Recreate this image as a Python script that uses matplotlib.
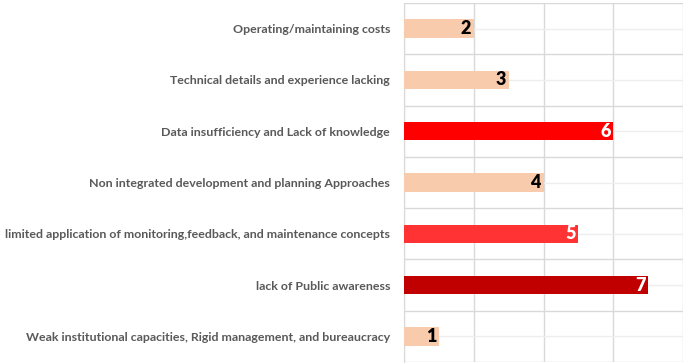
import matplotlib
matplotlib.use("Agg")
import matplotlib.pyplot as plt
import numpy as np

categories = [
    "Operating/maintaining costs",
    "Technical details and experience lacking",
    "Data insufficiency and Lack of knowledge",
    "Non integrated development and planning Approaches",
    "limited application of monitoring,feedback, and maintenance concepts",
    "lack of Public awareness",
    "Weak institutional capacities, Rigid management, and bureaucracy",
]
values = [2, 3, 6, 4, 5, 7, 1]
colors = ["#F8CBAD", "#F8CBAD", "#FF0000", "#F8CBAD", "#FF3333", "#C00000", "#F8CBAD"]
label_colors = ["black", "black", "white", "black", "white", "white", "black"]

fig = plt.figure(figsize=(6.85, 3.63), dpi=100)
ax = fig.add_axes([404/685, 1/363, 279/685, 359/363])

n = len(categories)
y = np.arange(n)
ax.barh(y, values, height=0.36, color=colors, zorder=3)
ax.set_ylim(n - 0.5, -0.5)
ax.set_xlim(0, 8)

ax.set_xticks([0, 2, 4, 6, 8])
ax.set_xticklabels([])
ax.tick_params(axis="x", length=0)
ax.set_yticks(np.arange(-0.5, n, 1))
ax.set_yticklabels([])
ax.set_yticks(y, minor=True)
ax.set_yticklabels(categories, minor=True, fontfamily="Lato", fontweight="bold",
                   fontsize=8.9, color="#595959")
ax.tick_params(axis="y", which="both", length=0, pad=10)
ax.grid(axis="x", color="#D9D9D9", lw=1, zorder=0)
ax.grid(axis="y", which="major", color="#D9D9D9", lw=1, zorder=0)
ax.grid(axis="y", which="minor", color="#EEEEEE", lw=1, zorder=0)
for s in ["top", "right", "bottom"]:
    ax.spines[s].set_visible(False)
ax.spines["left"].set_color("#D9D9D9")

for i, (v, lc) in enumerate(zip(values, label_colors)):
    ax.text(v - 0.08, i, str(v), ha="right", va="center", color=lc,
            fontfamily="Lato", fontweight="heavy", fontsize=13, zorder=4)

fig.savefig("out.png", dpi=100)
